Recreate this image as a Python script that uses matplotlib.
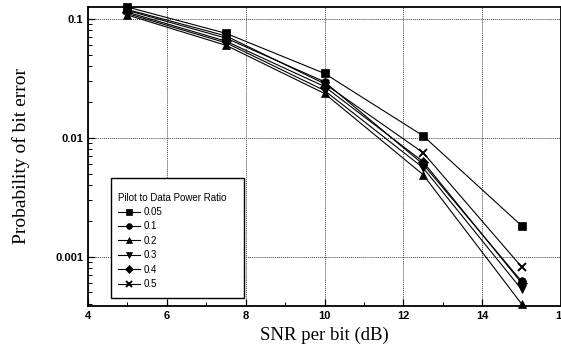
import numpy as np
import matplotlib.pyplot as plt
from matplotlib.patches import Rectangle
from matplotlib.ticker import FixedLocator, NullFormatter, LogLocator

snr = [5, 7.5, 10, 12.5, 15]
ratios = ['0.05', '0.1', '0.2', '0.3', '0.4', '0.5']
markers = ['s', 'o', '^', 'v', 'D', 'x']

ber_005 = [0.126, 0.0757, 0.0348, 0.0104, 0.00182]
ber_01 = [0.118, 0.0690, 0.0296, 0.0060, 0.00062]
ber_02 = [0.108, 0.0600, 0.0236, 0.0049, 0.00040]
ber_03 = [0.111, 0.0630, 0.0250, 0.0056, 0.00053]
ber_04 = [0.114, 0.0650, 0.0270, 0.0063, 0.00060]
ber_05 = [0.120, 0.0720, 0.0285, 0.0075, 0.00082]
series = [ber_005, ber_01, ber_02, ber_03, ber_04, ber_05]

fig = plt.figure(figsize=(5.61, 3.52), dpi=100)
ax = fig.add_axes([0.157, 0.131, 0.843, 0.849])

for vals, lab, m in zip(series, ratios, markers):
  ax.plot(snr, vals, '-', color='black', lw=0.8, marker=m, ms=5.5,
          mew=1.4 if m == 'x' else 0.5, label=lab, clip_on=False)

ax.set_yscale('log')
ax.set_xlim(4, 16)
ax.set_ylim(0.000385, 0.126)

ax.set_xticks([4, 6, 8, 10, 12, 14, 16])
ax.xaxis.set_minor_locator(FixedLocator([5, 7, 9, 11, 13, 15]))
ax.set_yticks([0.001, 0.01, 0.1])
ax.set_yticklabels(['0.001', '0.01', '0.1'])
ax.yaxis.set_minor_locator(LogLocator(base=10, subs=np.arange(2, 10)))
ax.yaxis.set_minor_formatter(NullFormatter())

ax.tick_params(which='both', direction='in', labelsize=8)
ax.tick_params(which='major', length=5, width=0.9)
ax.tick_params(which='minor', length=3, width=0.7)
for t in ax.get_xticklabels() + ax.get_yticklabels():
  t.set_family('Liberation Sans')
  t.set_fontweight('bold')

ax.grid(True, which='major', color='#444444', ls=(0, (1, 1)), lw=0.7)
for s in ax.spines.values():
  s.set_linewidth(1.3)

ax.set_xlabel('SNR per bit (dB)', family='Liberation Serif', fontsize=13.5, labelpad=4)
ax.set_ylabel('Probability of bit error', family='Liberation Serif', fontsize=14, labelpad=18)

# legend box
ax.add_patch(Rectangle((0.049, 0.027), 0.281, 0.401, transform=ax.transAxes,
                       fill=True, facecolor='white', edgecolor='black', lw=1.0, zorder=4))
leg = ax.legend(title='Pilot to Data Power Ratio', loc='upper left',
                bbox_to_anchor=(0.053, 0.395), frameon=False,
                prop={'family': 'Liberation Sans', 'size': 7},
                title_fontproperties={'family': 'Liberation Sans', 'size': 7},
                handlelength=2.3, labelspacing=0.45, borderpad=0,
                handletextpad=0.3, markerscale=0.75)
leg._legend_box.align = 'left'
leg.set_zorder(5)

fig.savefig('out.png', dpi=100)
